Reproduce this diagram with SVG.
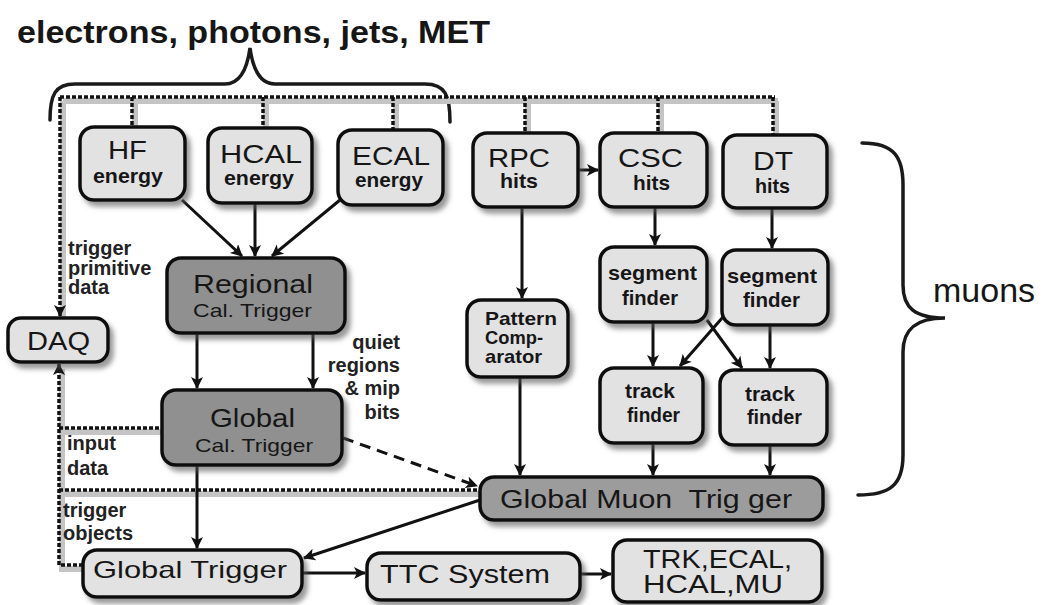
<svg xmlns="http://www.w3.org/2000/svg" width="1046" height="605" viewBox="0 0 1046 605">
  <defs>
    <style>
      text { font-family: "Liberation Sans", Arial, sans-serif; fill: #161616; }
      .box { fill: #e2e2e2; stroke: #111; stroke-width: 3.5; filter: url(#shadow); }
      .dark { fill: #909090; }
      .big { font-size: 26px; }
      .mid { font-size: 19px; }
      .sm { font-size: 21px; font-weight: bold; }
      .lbl { font-size: 20px; font-weight: bold; fill: #222; }
      .wire { fill: none; stroke: #111; stroke-width: 3; marker-end: url(#arrow); }
      .dash { fill: none; stroke: #111; stroke-width: 3; stroke-dasharray: 11 7; marker-end: url(#arrow); }
      .bus { fill: none; stroke: #111; stroke-width: 3.5; stroke-dasharray: 4 2; }
      .busHalo { fill: none; stroke: #c4c4c4; stroke-width: 6; }
      .brace { fill: none; stroke: #1a1a1a; stroke-width: 3.5; stroke-linecap: round; }
    </style>
    <filter id="shadow" x="-20%" y="-20%" width="145%" height="160%">
      <feGaussianBlur in="SourceAlpha" stdDeviation="2.5"/>
      <feOffset dx="4" dy="5" result="blur"/>
      <feFlood flood-color="#555" flood-opacity="0.6"/>
      <feComposite in2="blur" operator="in"/>
      <feMerge><feMergeNode/><feMergeNode in="SourceGraphic"/></feMerge>
    </filter>
    <marker id="arrow" markerUnits="userSpaceOnUse" markerWidth="14" markerHeight="14" refX="11" refY="6" orient="auto">
      <path d="M0,0 L12,6 L0,12 L3,6 z" fill="#111"/>
    </marker>
  </defs>

  <!-- headings and braces -->
  <text x="17" y="43" font-size="32" font-weight="bold" fill="#2a2a2a" textLength="473" lengthAdjust="spacingAndGlyphs">electrons, photons, jets, MET</text>
  <path class="brace" d="M50,120 C50,95 55,84 75,84 L225,84 C240,84 247,70 250,48 C253,70 260,84 275,84 L425,84 C445,84 450,95 450,122"/>
  <path class="brace" d="M862,143 C895,143 903,158 903,185 L903,285 C903,308 915,318 945,318 C915,318 903,330 903,352 L903,455 C903,485 890,495 858,495"/>
  <text x="933" y="302" font-size="34" fill="#222">muons</text>

  <!-- connectors -->
  <g id="connectors">
    <!-- readout bus halo -->
    <g transform="translate(3,4)">
      <path class="busHalo" d="M60,97 L775,97 M132,97 V127 M263,97 V128 M393,97 V130 M525,97 V133 M658,97 V133 M773,97 V135 M60,97 V316 M59,365 V565 H83 M59,428 H162 M59,490 H480"/>
    </g>
    <path class="bus" d="M60,97 L775,97 M132,97 V127 M263,97 V128 M393,97 V130 M525,97 V133 M658,97 V133 M773,97 V135 M59,428 H162 M59,490 H480"/>
    <path class="bus" d="M60,97 V316" marker-end="url(#arrow)"/>
    <path class="bus" d="M83,565 H59 V364" marker-end="url(#arrow)"/>

    <path class="wire" d="M182,200 L242,256"/>
    <path class="wire" d="M255,203 L255,256"/>
    <path class="wire" d="M340,200 L272,256"/>
    <path class="wire" d="M197,333 L197,388"/>
    <path class="wire" d="M313,333 L313,388"/>
    <path class="wire" d="M197,465 L197,548"/>
    <path class="dash" d="M343,438 L477,486"/>
    <path class="wire" d="M480,500 L304,558"/>
    <path class="wire" d="M302,573 L365,573"/>
    <path class="wire" d="M580,574 L611,574"/>
    <path class="wire" d="M578,170 L598,170"/>
    <path class="wire" d="M522,207 L522,298"/>
    <path class="wire" d="M520,377 L520,475"/>
    <path class="wire" d="M655,207 L655,245"/>
    <path class="wire" d="M772,208 L772,248"/>
    <path class="wire" d="M653,322 L653,366"/>
    <path class="wire" d="M770,325 L770,368"/>
    <path class="wire" d="M723,317 L680,366"/>
    <path class="wire" d="M707,320 L742,368"/>
    <path class="wire" d="M653,443 L653,475"/>
    <path class="wire" d="M770,445 L770,475"/>
  </g>

  <!-- calorimeter inputs -->
  <g id="hf">
    <rect class="box" x="80" y="127" width="105" height="73" rx="14"/>
    <text class="big" x="108" y="159" textLength="39" lengthAdjust="spacingAndGlyphs">HF</text>
    <text class="sm" x="93" y="183" textLength="70" lengthAdjust="spacingAndGlyphs">energy</text>
  </g>
  <g id="hcal">
    <rect class="box" x="208" y="128" width="104" height="75" rx="14"/>
    <text class="big" x="220" y="163" textLength="82" lengthAdjust="spacingAndGlyphs">HCAL</text>
    <text class="sm" x="224" y="185" textLength="70" lengthAdjust="spacingAndGlyphs">energy</text>
  </g>
  <g id="ecal">
    <rect class="box" x="338" y="130" width="105" height="75" rx="14"/>
    <text class="big" x="352" y="165" textLength="78" lengthAdjust="spacingAndGlyphs">ECAL</text>
    <text class="sm" x="355" y="187" textLength="68" lengthAdjust="spacingAndGlyphs">energy</text>
  </g>

  <!-- muon inputs -->
  <g id="rpc">
    <rect class="box" x="473" y="133" width="105" height="74" rx="14"/>
    <text class="big" x="488" y="167" textLength="62" lengthAdjust="spacingAndGlyphs">RPC</text>
    <text class="sm" x="500" y="188" textLength="38" lengthAdjust="spacingAndGlyphs">hits</text>
  </g>
  <g id="csc">
    <rect class="box" x="600" y="133" width="107" height="74" rx="14"/>
    <text class="big" x="618" y="167" textLength="65" lengthAdjust="spacingAndGlyphs">CSC</text>
    <text class="sm" x="633" y="190" textLength="37" lengthAdjust="spacingAndGlyphs">hits</text>
  </g>
  <g id="dt">
    <rect class="box" x="723" y="135" width="104" height="73" rx="14"/>
    <text class="big" x="753" y="170" textLength="40" lengthAdjust="spacingAndGlyphs">DT</text>
    <text class="sm" x="755" y="193" textLength="35" lengthAdjust="spacingAndGlyphs">hits</text>
  </g>

  <!-- calorimeter trigger -->
  <g id="regional-cal-trigger">
    <rect class="box dark" x="167" y="258" width="178" height="75" rx="14"/>
    <text class="big" x="193" y="293" textLength="120" lengthAdjust="spacingAndGlyphs">Regional</text>
    <text class="mid" x="193" y="317" textLength="119" lengthAdjust="spacingAndGlyphs">Cal. Trigger</text>
  </g>
  <g id="global-cal-trigger">
    <rect class="box dark" x="162" y="390" width="180" height="75" rx="14"/>
    <text class="big" x="210" y="427" textLength="85" lengthAdjust="spacingAndGlyphs">Global</text>
    <text class="mid" x="195" y="452" textLength="118" lengthAdjust="spacingAndGlyphs">Cal. Trigger</text>
  </g>

  <g id="daq">
    <rect class="box" x="8" y="318" width="100" height="44" rx="13"/>
    <text font-size="25" x="27" y="350" textLength="63" lengthAdjust="spacingAndGlyphs">DAQ</text>
  </g>

  <!-- muon trigger chain -->
  <g id="pattern-comparator">
    <rect class="box" x="467" y="300" width="101" height="77" rx="14"/>
    <text font-size="19" font-weight="bold" x="485" y="325" textLength="72" lengthAdjust="spacingAndGlyphs">Pattern</text>
    <text font-size="19" font-weight="bold" x="485" y="344" textLength="58" lengthAdjust="spacingAndGlyphs">Comp-</text>
    <text font-size="19" font-weight="bold" x="485" y="363" textLength="57" lengthAdjust="spacingAndGlyphs">arator</text>
  </g>
  <g id="csc-segment-finder">
    <rect class="box" x="600" y="247" width="107" height="75" rx="14"/>
    <text class="sm" x="608" y="280" textLength="89" lengthAdjust="spacingAndGlyphs">segment</text>
    <text class="sm" x="622" y="305" textLength="56" lengthAdjust="spacingAndGlyphs">finder</text>
  </g>
  <g id="dt-segment-finder">
    <rect class="box" x="722" y="250" width="106" height="75" rx="14"/>
    <text class="sm" x="727" y="283" textLength="90" lengthAdjust="spacingAndGlyphs">segment</text>
    <text class="sm" x="743" y="307" textLength="57" lengthAdjust="spacingAndGlyphs">finder</text>
  </g>
  <g id="csc-track-finder">
    <rect class="box" x="600" y="368" width="103" height="75" rx="14"/>
    <text class="sm" x="625" y="398" textLength="50" lengthAdjust="spacingAndGlyphs">track</text>
    <text class="sm" x="627" y="422" textLength="53" lengthAdjust="spacingAndGlyphs">finder</text>
  </g>
  <g id="dt-track-finder">
    <rect class="box" x="720" y="370" width="107" height="75" rx="14"/>
    <text class="sm" x="745" y="401" textLength="50" lengthAdjust="spacingAndGlyphs">track</text>
    <text class="sm" x="747" y="424" textLength="55" lengthAdjust="spacingAndGlyphs">finder</text>
  </g>
  <g id="global-muon-trigger">
    <rect class="box" x="480" y="477" width="343" height="43" rx="14" fill="#9c9c9c" style="fill:#9c9c9c"/>
    <text class="big" x="500" y="508" textLength="292" lengthAdjust="spacingAndGlyphs" xml:space="preserve">Global Muon  Trig ger</text>
  </g>

  <!-- global decision and distribution -->
  <g id="global-trigger">
    <rect class="box" x="83" y="550" width="219" height="47" rx="14"/>
    <text font-size="24" x="93" y="578" textLength="194" lengthAdjust="spacingAndGlyphs">Global Trigger</text>
  </g>
  <g id="ttc-system">
    <rect class="box" x="367" y="553" width="213" height="47" rx="14"/>
    <text font-size="25" x="380" y="583" textLength="170" lengthAdjust="spacingAndGlyphs">TTC System</text>
  </g>
  <g id="subdetectors">
    <rect class="box" x="613" y="540" width="209" height="62" rx="14"/>
    <text font-size="25" x="643" y="568" textLength="149" lengthAdjust="spacingAndGlyphs">TRK,ECAL,</text>
    <text font-size="25" x="643" y="593" textLength="140" lengthAdjust="spacingAndGlyphs">HCAL,MU</text>
  </g>

  <!-- data-path labels -->
  <g id="labels">
    <text class="lbl" x="68" y="255">trigger</text>
    <text class="lbl" x="68" y="275">primitive</text>
    <text class="lbl" x="68" y="294">data</text>
    <text class="lbl" x="400" y="349" text-anchor="end">quiet</text>
    <text class="lbl" x="400" y="372" text-anchor="end">regions</text>
    <text class="lbl" x="400" y="395" text-anchor="end">&amp; mip</text>
    <text class="lbl" x="400" y="419" text-anchor="end">bits</text>
    <text class="lbl" x="67" y="450">input</text>
    <text class="lbl" x="67" y="475">data</text>
    <text class="lbl" x="63" y="517">trigger</text>
    <text class="lbl" x="63" y="540">objects</text>
  </g>
</svg>
